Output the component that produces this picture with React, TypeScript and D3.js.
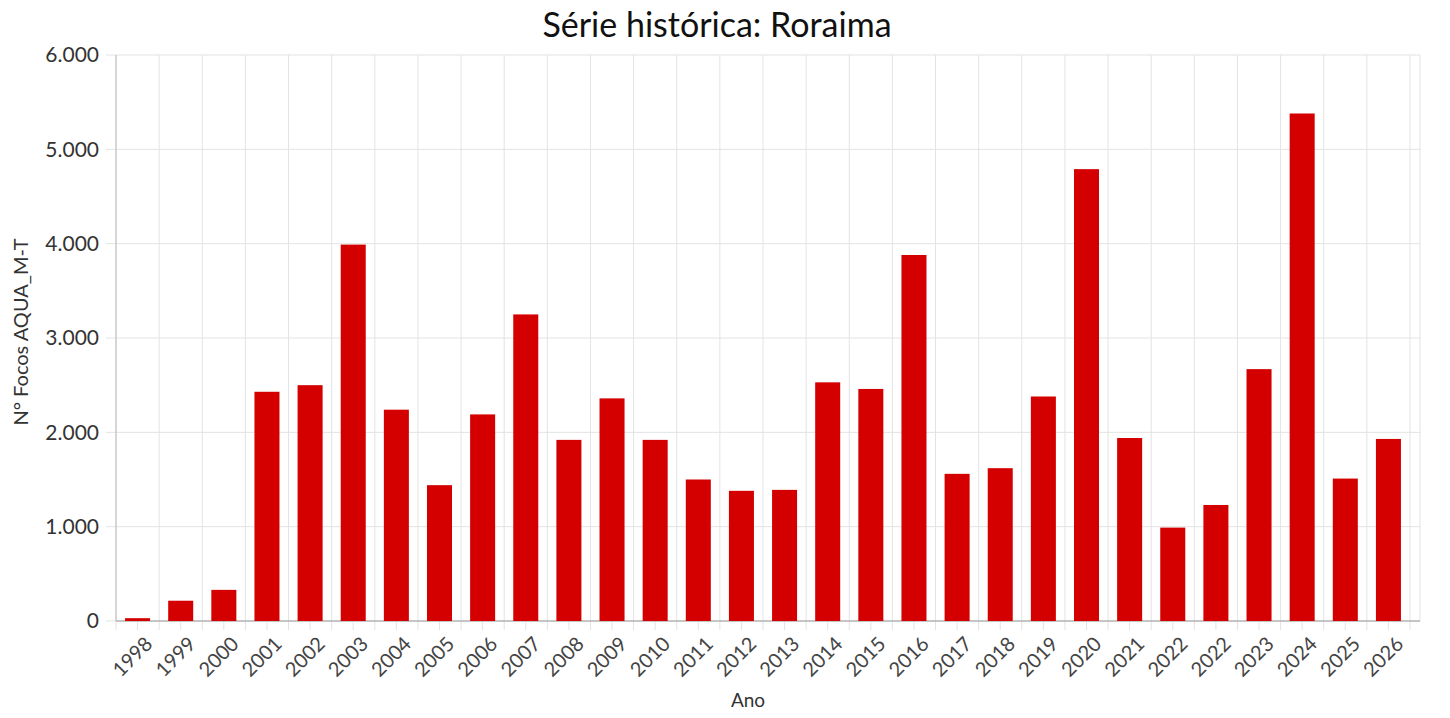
import React from "react";
import * as d3 from "d3";

const years = ["1998","1999","2000","2001","2002","2003","2004","2005","2006","2007","2008","2009","2010","2011","2012","2013","2014","2015","2016","2017","2018","2019","2020","2021","2022","2022","2023","2024","2025","2026"];
const focos = [30,215,330,2430,2500,3990,2240,1440,2190,3250,1920,2360,1920,1500,1380,1390,2530,2460,3880,1560,1620,2380,4790,1940,990,1230,2670,5380,1510,1930];
const yTicks = [0,1000,2000,3000,4000,5000,6000];

const W = 1450, H = 718;
const M = { left: 116, right: 30, top: 55, bottom: 97 };
const CAT_END = 1410;

export default function App() {
  const x = d3.scaleBand<number>().domain(years.map((_, i) => i)).range([M.left, CAT_END]).paddingInner(0.42).paddingOuter(0.21);
  const xGrid = d3.scaleLinear().domain([0, years.length]).range([M.left, CAT_END]);
  const y = d3.scaleLinear().domain([0, 6000]).range([H - M.bottom, M.top]);
  const fmt = (v: number) => d3.format(",")(v).replace(/,/g, ".");
  const font = "Lato, 'Open Sans', sans-serif";
  const y0 = y(0);
  const right = W - M.right;
  return (
    <svg width={W} height={H} style={{ position: "absolute", left: 0, top: 0, background: "#fff" }} fontFamily={font}>
      {d3.range(years.length + 1).map(i => (
        <line key={"vg" + i} x1={xGrid(i)} x2={xGrid(i)} y1={M.top} y2={y0 + 9} stroke="#e3e3e3" strokeWidth={1} />
      ))}
      {d3.range(years.length).map(i => (
        <line key={"vt" + i} x1={xGrid(i + 0.5)} x2={xGrid(i + 0.5)} y1={y0} y2={y0 + 9} stroke="#e3e3e3" strokeWidth={1} />
      ))}
      <line x1={right} x2={right} y1={M.top} y2={y0} stroke="#e3e3e3" strokeWidth={1} />
      {yTicks.map(t => (
        <g key={"yt" + t}>
          <line x1={M.left - 10} x2={right} y1={y(t)} y2={y(t)} stroke="#e3e3e3" strokeWidth={1} />
          <text x={M.left - 17} y={y(t)} dy="0.35em" textAnchor="end" fontSize={21} fill="#333">{fmt(t)}</text>
        </g>
      ))}
      <line x1={M.left} x2={M.left} y1={M.top} y2={y0} stroke="#bbb" strokeWidth={1} />
      <line x1={M.left} x2={right} y1={y0} y2={y0} stroke="#999" strokeWidth={1} />
      {focos.map((v, i) => (
        <rect key={"b" + i} x={x(i)} y={y(v)} width={x.bandwidth()} height={y0 - y(v)} fill="#d40000" />
      ))}
      {years.map((lab, i) => {
        const cx = (x(i) as number) + x.bandwidth() / 2 + 6;
        return (
          <text key={"xl" + i} transform={`translate(${cx},${y0 + 14}) rotate(-45)`} textAnchor="end" dy="0.72em" fontSize={20} fill="#444">{lab}</text>
        );
      })}
      <text x={717} y={37} textAnchor="middle" fontSize={34} fill="#111">Série histórica: Roraima</text>
      <text x={748} y={707} textAnchor="middle" fontSize={19} fill="#333">Ano</text>
      <text transform={`translate(28,${332}) rotate(-90)`} textAnchor="middle" fontSize={20} fill="#333">N° Focos AQUA_M-T</text>
    </svg>
  );
}
